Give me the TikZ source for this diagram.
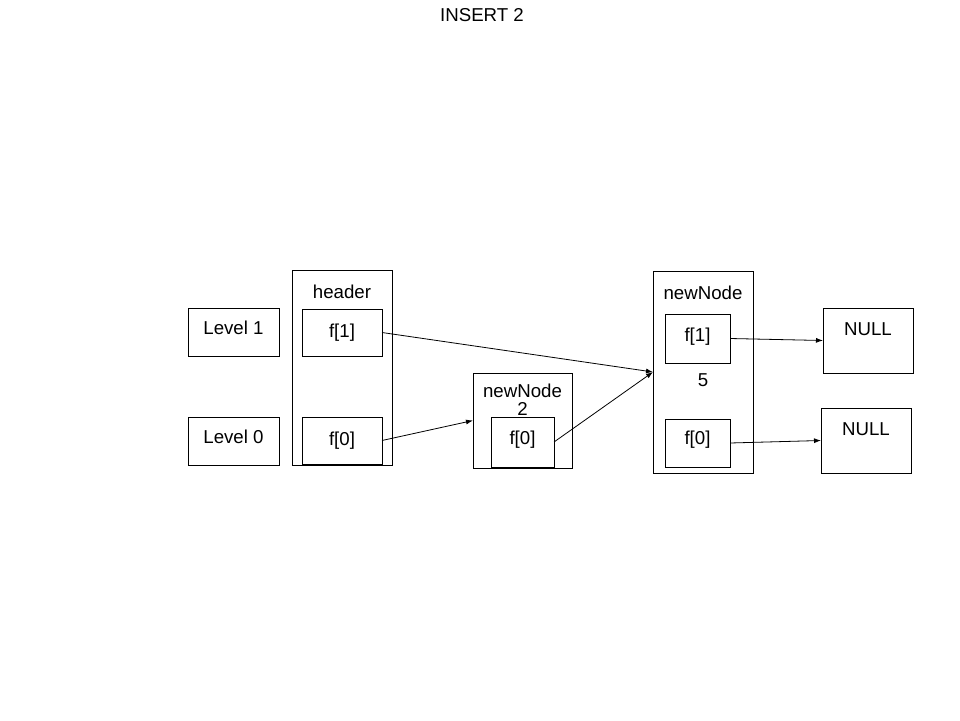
\documentclass[tikz,border=0pt]{standalone}
\usepackage{fontspec}
\setmainfont{Liberation Sans}
\usetikzlibrary{arrows.meta}
\begin{document}
\begin{tikzpicture}[x=1pt,y=-1pt,
  box/.style={draw,line width=1pt,inner sep=0pt,outer sep=0pt,anchor=north west},
  lbl/.style={inner sep=0pt,font=\fontsize{18.67}{21}\selectfont},
  link/.style={line width=0.8pt,-{Latex[length=7pt,width=5pt]}}]
\useasboundingbox (0,0) rectangle (960,720);
\node[lbl] (title) at (482,15) {INSERT 2};
% level labels
\node[box,minimum width=91pt,minimum height=48pt] (lv1) at (188,308) {};
\node[lbl] (lv1t) at (lv1.center) [yshift=4pt] {Level 1};
\node[box,minimum width=91pt,minimum height=48pt] (lv0) at (188,417) {};
\node[lbl] (lv0t) at (lv0.center) [yshift=4pt] {Level 0};
% header
\node[box,minimum width=100pt,minimum height=195pt] (hdr) at (292,270) {};
\node[lbl] (hdrt) at (342,292) {header};
\node[box,minimum width=80pt,minimum height=47pt] (hf1) at (302,309) {};
\node[lbl] (hf1t) at (hf1.center) {f[1]};
\node[box,minimum width=80pt,minimum height=47pt] (hf0) at (302,417) {};
\node[lbl] (hf0t) at (hf0.center) {f[0]};
% newNode 2
\node[box,minimum width=99pt,minimum height=95pt] (n2) at (473,373) {};
\node[lbl] (n2t) at (522.5,391) {newNode};
\node[lbl] (n2v) at (522.5,409) {2};
\node[box,minimum width=63pt,minimum height=50pt] (n2f0) at (491,417) {};
\node[lbl] (n2f0t) at (n2f0.center) [yshift=2pt] {f[0]};
% newNode 5
\node[box,minimum width=100pt,minimum height=202pt] (nn) at (653,271) {};
\node[lbl] (nnt) at (703,293) {newNode};
\node[lbl] (nnv) at (703,380) {5};
\node[box,minimum width=65pt,minimum height=49pt] (nnf1) at (665,314) {};
\node[lbl] (nnf1t) at (nnf1.center) [yshift=1.5pt] {f[1]};
\node[box,minimum width=65pt,minimum height=48pt] (nnf0) at (665,419) {};
\node[lbl] (nnf0t) at (nnf0.center) [yshift=3pt] {f[0]};
% NULL
\node[box,minimum width=90pt,minimum height=65pt] (nul1) at (823,308) {};
\node[lbl] (nul1t) at (868,329) {NULL};
\node[box,minimum width=90pt,minimum height=65pt] (nul0) at (821,408) {};
\node[lbl] (nul0t) at (866,429) {NULL};
% links
\draw[link] (hf1.east) -- (nn.west);
\draw[link] (hf0.east) -- (n2.west);
\draw[link] (n2f0.east) -- (nn.west);
\draw[link] (nnf1.east) -- (nul1.west);
\draw[link] (nnf0.east) -- (nul0.west);
\end{tikzpicture}
\end{document}
